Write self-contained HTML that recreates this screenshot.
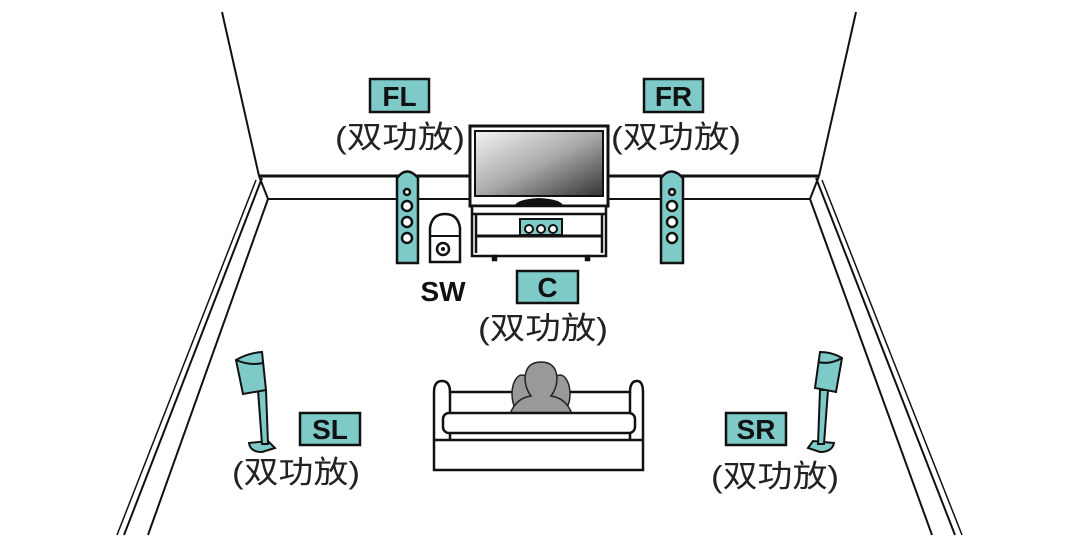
<!DOCTYPE html>
<html><head><meta charset="utf-8"><style>
html,body{margin:0;padding:0;background:#fff;}
svg{display:block;}
text{font-family:"Liberation Sans","Noto Sans CJK SC",sans-serif;}
.lb{font-weight:bold;font-size:28px;fill:#111;}
.cn{font-size:31px;fill:#222;}
</style></head><body>
<svg width="1080" height="540" viewBox="0 0 1080 540" xmlns="http://www.w3.org/2000/svg">
<defs>
<linearGradient id="scr" x1="0" y1="0" x2="1" y2="1">
<stop offset="0" stop-color="#f4f4f4"/><stop offset="0.5" stop-color="#aaa"/><stop offset="1" stop-color="#333"/>
</linearGradient>
</defs>
<g stroke="#111" stroke-width="2" fill="none">
<line x1="222" y1="12" x2="259" y2="176"/>
<line x1="856" y1="12" x2="819" y2="176"/>
<line x1="259" y1="176" x2="470" y2="176" stroke-width="3"/>
<line x1="268" y1="199" x2="470" y2="199"/>
<line x1="608" y1="176" x2="819" y2="176" stroke-width="3"/>
<line x1="608" y1="199" x2="810" y2="199"/>
<line x1="259" y1="176" x2="268" y2="199"/>
<line x1="819" y1="176" x2="810" y2="199"/>
<line x1="262" y1="178" x2="124" y2="535"/>
<line x1="256" y1="180" x2="117" y2="535" stroke-width="1.5"/>
<line x1="268" y1="199" x2="148" y2="535"/>
<line x1="816" y1="178" x2="955" y2="535"/>
<line x1="822" y1="180" x2="962" y2="535" stroke-width="1.5"/>
<line x1="810" y1="199" x2="932" y2="535"/>
</g>
<rect x="470" y="126" width="138" height="80" fill="#fff" stroke="#111" stroke-width="3"/>
<rect x="475" y="131" width="128" height="65" fill="url(#scr)" stroke="#111" stroke-width="2"/>
<path d="M514 207 Q516 199 539 198 Q562 199 564 207 Z" fill="#111"/>
<g stroke="#111" stroke-width="2.5" fill="#fff">
<rect x="472" y="206" width="134" height="50"/>
<line x1="472" y1="214" x2="606" y2="214"/>
<line x1="476" y1="236" x2="602" y2="236" stroke-width="3"/>
<line x1="476" y1="214" x2="476" y2="253"/>
<line x1="602" y1="214" x2="602" y2="253"/>
<rect x="493" y="256" width="3" height="4" fill="#111"/>
<rect x="586" y="256" width="3" height="4" fill="#111"/>
</g>
<rect x="520" y="219" width="42" height="16" fill="#7ecac9" stroke="#111" stroke-width="2"/>
<g fill="#fff" stroke="#111" stroke-width="2"><circle cx="529" cy="229" r="4"/><circle cx="541" cy="229" r="4"/><circle cx="553" cy="229" r="4"/></g>
<g stroke="#111" stroke-width="2.5">
<path d="M397 263 V178 Q407 165 418 178 V263 Z" fill="#7ecac9"/>
<path d="M661 263 V178 Q671 165 683 178 V263 Z" fill="#7ecac9"/>
</g>
<g fill="#fff" stroke="#111" stroke-width="2.5">
<circle cx="407" cy="192" r="3"/><circle cx="407" cy="206" r="5"/><circle cx="407" cy="222" r="5"/><circle cx="407" cy="238" r="5"/>
<circle cx="672" cy="192" r="3"/><circle cx="672" cy="206" r="5"/><circle cx="672" cy="222" r="5"/><circle cx="672" cy="238" r="5"/>
</g>
<path d="M430 262 V228 Q432 214 445 214 Q458 214 460 228 V262 Z" fill="#fff" stroke="#111" stroke-width="2.5"/>
<line x1="430" y1="236" x2="460" y2="236" stroke="#111" stroke-width="2"/>
<circle cx="443" cy="249" r="6" fill="#fff" stroke="#111" stroke-width="2.5"/>
<circle cx="443" cy="249" r="2" fill="#111"/>
<g stroke="#111" stroke-width="2.5" fill="#fff">
<path d="M434 470 V392 Q434 381 442 381 Q450 381 450 392 L630 392 Q630 381 637 381 Q643 381 643 392 V470 Z"/>
<line x1="450" y1="392" x2="450" y2="440"/>
<line x1="630" y1="392" x2="630" y2="440"/>
<line x1="434" y1="440" x2="643" y2="440"/>
</g>
<g fill="#999" stroke="#222" stroke-width="1.5">
<ellipse cx="522" cy="394" rx="10" ry="19"/>
<ellipse cx="560" cy="394" rx="10" ry="19"/>
<path d="M510 414 Q516 398 531 396 Q525 388 525 378 Q526 362 541 362 Q556 362 557 378 Q557 388 551 396 Q566 398 572 414 Z"/>
</g>
<rect x="443" y="413" width="192" height="20" rx="6" fill="#fff" stroke="#111" stroke-width="2.5"/>
<g stroke="#111" stroke-width="2" fill="#7ecac9">
<path d="M249 443 L268 441 L275 448 L262 452 Q250 452 249 443 Z"/>
<path d="M258 390 L266 390 L268 444 L262 444 Z"/>
<path d="M236 360 Q248 353 262 352 L266 390 L243 394 Z"/>
<path d="M236 360 Q250 366 263 363"/>
<path d="M834 443 L813 441 L808 448 L820 452 Q832 452 834 443 Z"/>
<path d="M820 390 L828 390 L824 444 L818 444 Z"/>
<path d="M842 358 Q832 352 820 352 L815 388 L836 392 Z"/>
<path d="M842 358 Q830 365 818 362"/>
</g>
<g fill="#7ecac9" stroke="#111" stroke-width="2.5">
<rect x="370" y="79" width="59" height="33"/>
<rect x="644" y="79" width="59" height="33"/>
<rect x="517" y="271" width="61" height="32"/>
<rect x="300" y="413" width="60" height="32"/>
<rect x="726" y="413" width="60" height="32"/>
</g>
<text class="lb" x="399.5" y="106" text-anchor="middle">FL</text>
<text class="lb" x="673.5" y="106" text-anchor="middle">FR</text>
<text class="lb" x="547.5" y="297" text-anchor="middle">C</text>
<text class="lb" x="330" y="439" text-anchor="middle">SL</text>
<text class="lb" x="756" y="439" text-anchor="middle">SR</text>
<text class="lb" x="443" y="301" text-anchor="middle">SW</text>
<text class="cn" x="335" y="148" textLength="130" lengthAdjust="spacingAndGlyphs">(双功放)</text>
<text class="cn" x="611" y="148" textLength="130" lengthAdjust="spacingAndGlyphs">(双功放)</text>
<text class="cn" x="478" y="339" textLength="130" lengthAdjust="spacingAndGlyphs">(双功放)</text>
<text class="cn" x="232" y="483" textLength="128" lengthAdjust="spacingAndGlyphs">(双功放)</text>
<text class="cn" x="711" y="487" textLength="128" lengthAdjust="spacingAndGlyphs">(双功放)</text>
</svg>
</body></html>
